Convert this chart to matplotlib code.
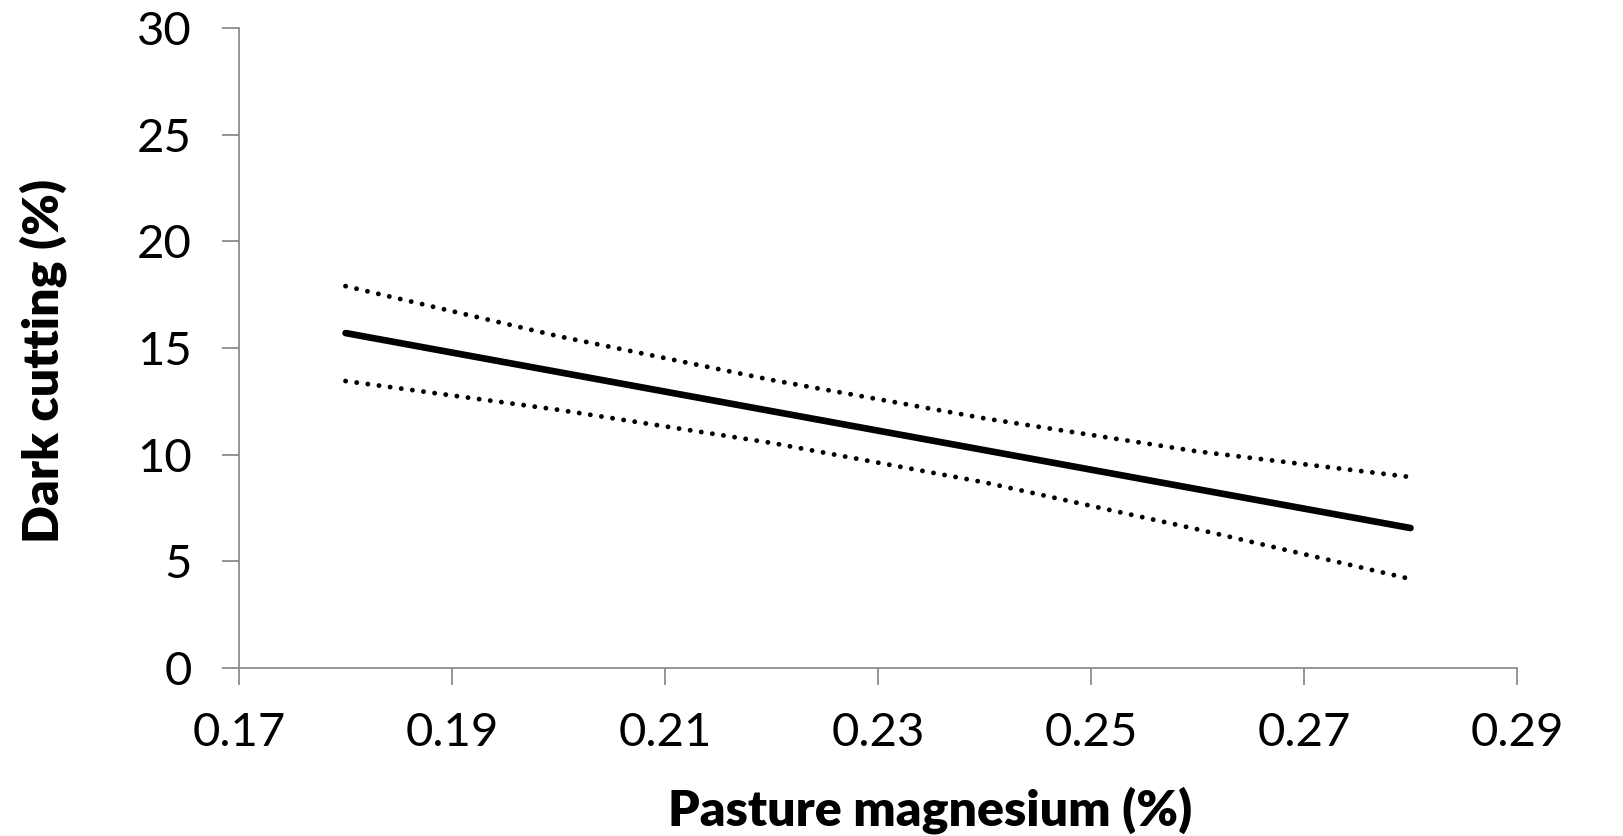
import matplotlib
matplotlib.use('Agg')
import matplotlib.pyplot as plt

# fitted dark cutting vs pasture Mg, with confidence limits
mg = [0.18, 0.20, 0.22, 0.24, 0.26, 0.28]
dc_fit = [15.7, 13.87, 12.04, 10.21, 8.38, 6.56]
dc_upper = [17.9, 15.55, 13.5, 11.7, 10.15, 8.95]
dc_lower = [13.45, 12.1, 10.55, 8.7, 6.5, 4.17]

x_ticks = [0.17, 0.19, 0.21, 0.23, 0.25, 0.27, 0.29]
y_ticks = [0, 5, 10, 15, 20, 25, 30]

plt.rcParams['font.family'] = ['Lato', 'DejaVu Sans']
grey = '#8c8c8c'

fig = plt.figure(figsize=(16.23, 8.36), dpi=100)
ax = fig.add_axes([0.1473, 0.2010, 0.7874, 0.7655])

ax.plot(mg, dc_fit, color='black', lw=4.8, solid_capstyle='round')
for band in (dc_upper, dc_lower):
	ax.plot(mg, band, color='black', lw=3.5, linestyle=(0, (0.01, 2.3)),
		dash_capstyle='round')

ax.set_xlim(0.17, 0.29)
ax.set_ylim(0, 30)
ax.set_xticks(x_ticks)
ax.set_xticklabels([f'{v:.2f}' for v in x_ticks])
ax.set_yticks(y_ticks)

for side in ('top', 'right'):
	ax.spines[side].set_visible(False)
for side in ('left', 'bottom'):
	ax.spines[side].set_color(grey)
	ax.spines[side].set_linewidth(1.3)

ax.tick_params(axis='both', length=12, width=1.3, color=grey,
	labelsize=34, labelcolor='black')
ax.tick_params(axis='x', pad=20)
ax.tick_params(axis='y', pad=22)

ax.set_xlabel('Pasture magnesium (%)', fontsize=36, fontweight='heavy')
ax.xaxis.set_label_coords(0.541, -0.185)
ax.set_ylabel('Dark cutting (%)', fontsize=36, fontweight='heavy')
ax.yaxis.set_label_coords(-0.135, 0.48)

plt.savefig('out.png', dpi=100)
